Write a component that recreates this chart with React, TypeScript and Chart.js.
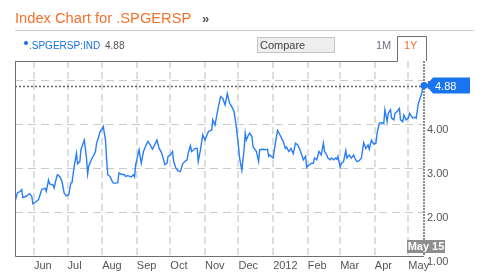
import React, { useEffect, useRef } from "react";
import { Chart, registerables } from "chart.js";

Chart.register(...registerables);

// Day offsets from 15 May 2011
const dayIdx = [
  0, 2, 5, 6, 7, 10, 13, 15, 16, 19, 21, 24, 27, 28, 30, 31, 34, 35, 37, 38, 40, 42, 44, 46, 48, 50, 51, 53, 55, 56,
  58, 59, 61, 62, 64, 65, 66, 69, 70, 72, 73, 75, 76, 78, 79, 81, 82, 83, 85, 87, 88, 90, 92, 93, 95, 98, 99, 101,
  104, 106, 107, 108, 109, 111, 113, 115, 117, 119, 121, 123, 125, 127, 129, 131, 133, 134, 136, 137, 139, 141, 142,
  144, 146, 148, 150, 152, 154, 155, 157, 158, 160, 161, 163, 164, 166, 168, 170, 173, 176, 177, 179, 182, 184, 186,
  188, 190, 192, 194, 196, 198, 200, 201, 203, 205, 206, 207, 209, 210, 212, 213, 216, 218, 219, 222, 224, 226, 227,
  228, 231, 233, 235, 237, 240, 242, 243, 245, 247, 249, 251, 253, 255, 257, 258, 260, 261, 262, 265, 267, 268, 270,
  272, 274, 276, 277, 279, 280, 282, 283, 285, 287, 288, 289, 291, 292, 294, 296, 297, 299, 301, 303, 304, 306, 308,
  310, 312, 314, 316, 317, 319, 321, 323, 324, 326, 328, 330, 331, 333, 334, 336, 337, 339, 340, 342, 344, 345, 347,
  348, 350, 352, 353, 356, 358, 359, 361, 362, 364, 365, 366,
];

const values = [
  2.24, 2.43, 2.48, 2.51, 2.33, 2.36, 2.42, 2.36, 2.19, 2.24, 2.28, 2.52, 2.54, 2.47, 2.73, 2.64, 2.62, 2.55, 2.77,
  2.85, 2.81, 2.7, 2.43, 2.37, 2.39, 2.66, 2.67, 3.04, 3.34, 3.1, 3.15, 3.42, 3.57, 3.64, 3.23, 2.87, 3.05, 3.23,
  3.27, 3.38, 3.57, 3.72, 3.83, 3.89, 3.95, 3.64, 3.19, 2.85, 2.81, 2.7, 2.66, 2.66, 2.67, 2.89, 2.86, 2.85, 2.81,
  2.83, 2.8, 2.85, 2.8, 3.08, 3.19, 3.42, 3.11, 3.38, 3.51, 3.61, 3.53, 3.43, 3.53, 3.64, 3.45, 3.36, 3.19, 3.08,
  3.11, 3.27, 3.3, 3.38, 3.15, 3.0, 2.94, 2.92, 3.1, 3.15, 3.19, 3.34, 3.51, 3.38, 3.42, 3.45, 3.45, 3.15, 3.42,
  3.76, 3.64, 3.83, 3.87, 4.1, 3.98, 4.4, 4.63, 4.59, 4.44, 4.7, 4.48, 4.4, 4.29, 3.95, 3.49, 3.23, 2.95, 3.42, 3.8,
  3.64, 3.76, 3.8, 3.72, 3.49, 3.38, 3.15, 3.42, 3.43, 3.42, 3.43, 3.27, 3.3, 3.23, 3.57, 3.86, 3.76, 3.61, 3.45,
  3.48, 3.38, 3.45, 3.33, 3.57, 3.53, 3.42, 3.27, 3.19, 3.27, 3.02, 3.05, 3.11, 3.11, 3.23, 3.19, 3.38, 3.3, 3.57,
  3.38, 3.3, 3.23, 3.19, 3.23, 3.19, 3.23, 3.2, 3.27, 3.02, 3.11, 3.15, 3.4, 3.23, 3.3, 3.23, 3.3, 3.23, 3.15, 3.17,
  3.23, 3.58, 3.45, 3.53, 3.43, 3.64, 3.55, 3.57, 3.8, 4.02, 4.04, 4.02, 4.33, 4.06, 4.25, 4.33, 4.14, 4.1, 4.25,
  4.29, 4.36, 4.1, 4.06, 4.21, 4.1, 4.14, 4.25, 4.14, 4.16, 4.14, 4.48, 4.55, 4.7, 4.86, 4.88,
];

const monthDays = [17, 47, 78, 109, 139, 170, 200, 231, 262, 291, 322, 352];
const monthLabels = ["Jun", "Jul", "Aug", "Sep", "Oct", "Nov", "Dec", "2012", "Feb", "Mar", "Apr", "May"];
const yTicks = [1, 2, 3, 4, 5];
const lastValue = 4.88;
const lastDateLabel = "May 15";
const seriesName = ".SPGERSP:IND";

const BLUE = "#2a7ef5";
const TAG_BLUE = "#1a74f0";
const FONT = "Arial, 'Liberation Sans', sans-serif";

export default function App() {
  const ref = useRef<HTMLCanvasElement>(null);

  useEffect(() => {
    const canvas = ref.current;
    if (!canvas) return;

    const overlay = {
      id: "overlay",
      beforeDatasetsDraw(chart: any) {
        const ctx = chart.ctx;
        const { left, right } = chart.chartArea;
        const ys = chart.scales.y;
        const yv = Math.round(ys.getPixelForValue(lastValue)) + 0.5;
        ctx.save();
        ctx.strokeStyle = "#666";
        ctx.lineWidth = 1.5;
        ctx.setLineDash([2, 2]);
        ctx.beginPath();
        ctx.moveTo(left, yv);
        ctx.lineTo(right, yv);
        ctx.stroke();
        ctx.restore();
      },
      afterDraw(chart: any) {
        const ctx = chart.ctx;
        const { left, right, top, bottom } = chart.chartArea;
        const ys = chart.scales.y;
        const xs = chart.scales.x;
        ctx.save();
        ctx.strokeStyle = "#6f6f6f";
        ctx.lineWidth = 1;
        ctx.setLineDash([]);
        ctx.beginPath();
        ctx.moveTo(left + 0.5, top + 0.5);
        ctx.lineTo(left + 0.5, bottom + 0.5);
        ctx.lineTo(right, bottom + 0.5);
        ctx.moveTo(left, top + 0.5);
        ctx.lineTo(397.5, top + 0.5);
        ctx.lineTo(397.5, 36.5);
        ctx.lineTo(426.5, 36.5);
        ctx.lineTo(426.5, top);
        ctx.stroke();
        ctx.strokeStyle = "#8a8a8a";
        ctx.lineWidth = 2;
        ctx.setLineDash([2, 1]);
        ctx.beginPath();
        ctx.moveTo(right, top);
        ctx.lineTo(right, bottom);
        ctx.stroke();
        ctx.setLineDash([]);
        const xe = xs.getPixelForValue(dayIdx[dayIdx.length - 1]);
        const ye = ys.getPixelForValue(lastValue);
        ctx.fillStyle = TAG_BLUE;
        ctx.beginPath();
        ctx.arc(xe, ye, 3.5, 0, Math.PI * 2);
        ctx.fill();
        ctx.beginPath();
        ctx.moveTo(right + 2, ye);
        ctx.lineTo(right + 9, ye - 8);
        ctx.lineTo(470, ye - 8);
        ctx.lineTo(470, ye + 8);
        ctx.lineTo(right + 9, ye + 8);
        ctx.closePath();
        ctx.fill();
        ctx.fillStyle = "#fff";
        ctx.font = `11px ${FONT}`;
        ctx.textBaseline = "middle";
        ctx.textAlign = "left";
        ctx.fillText(lastValue.toFixed(2), 435, ye + 1);
        ctx.fillStyle = "#8e8e8e";
        ctx.fillRect(407, 240, 38, 13);
        ctx.fillStyle = "#fff";
        ctx.font = `bold 11px ${FONT}`;
        ctx.textAlign = "center";
        ctx.fillText(lastDateLabel, 426, 247);
        ctx.restore();
      },
    };

    const chart = new Chart(canvas, {
      type: "line",
      data: {
        datasets: [
          {
            data: dayIdx.map((d, i) => ({ x: d, y: values[i] })),
            borderColor: BLUE,
            borderWidth: 1.4,
            pointRadius: 0,
            tension: 0,
            fill: false,
          },
        ],
      },
      options: {
        animation: false,
        responsive: false,
        devicePixelRatio: 1,
        layout: { padding: { left: 15, top: 61, right: 0, bottom: 0 } },
        plugins: { legend: { display: false }, tooltip: { enabled: false } },
        scales: {
          x: {
            type: "linear",
            min: 0,
            max: 366,
            afterBuildTicks(scale: any) {
              scale.ticks = monthDays.map((v) => ({ value: v }));
            },
            afterFit(scale: any) {
              scale.height = 19;
            },
            ticks: {
              autoSkip: false,
              maxRotation: 0,
              align: "start",
              padding: 3,
              color: "#555",
              font: { family: FONT, size: 11 },
              callback(v: any) {
                const i = monthDays.indexOf(v);
                return i >= 0 ? monthLabels[i] : "";
              },
            },
            grid: { color: "#dedede", lineWidth: 2, drawTicks: false },
            border: { display: false, dash: [7, 4] },
          },
          y: {
            type: "linear",
            position: "right",
            min: 1,
            max: 5.44,
            afterBuildTicks(scale: any) {
              scale.ticks = yTicks.map((v) => ({ value: v }));
            },
            afterFit(scale: any) {
              scale.width = 64;
            },
            ticks: {
              padding: 3,
              labelOffset: 6,
              color: "#555",
              font: { family: FONT, size: 11 },
              callback(v: any) {
                return Number(v).toFixed(2);
              },
            },
            grid: { color: "#cacaca", lineWidth: 1, drawTicks: false },
            border: { display: false, dash: [8, 5] },
          },
        },
      },
      plugins: [overlay],
    } as any);

    return () => chart.destroy();
  }, []);

  const abs = (o: any): React.CSSProperties => ({ position: "absolute", whiteSpace: "nowrap", ...o });

  return (
    <div style={{ position: "fixed", left: 0, top: 0, width: 488, height: 275, background: "#fff", fontFamily: FONT }}>
      <canvas ref={ref} width={488} height={275} style={{ position: "absolute", left: 0, top: 0, width: 488, height: 275 }} />
      <div style={abs({ left: 15, top: 11, fontSize: 14.7, lineHeight: 1, color: "#f4712d" })}>Index Chart for .SPGERSP</div>
      <div style={abs({ left: 202, top: 12, fontSize: 13, lineHeight: 1, color: "#555", fontWeight: "bold" })}>»</div>
      <div style={abs({ left: 15, top: 30, width: 459, height: 1, background: "#cfcfcf" })} />
      <div style={abs({ left: 24, top: 41, width: 4, height: 4, borderRadius: 2, background: "#1a6ee6" })} />
      <div style={abs({ left: 29, top: 41, fontSize: 10, lineHeight: 1, color: "#1a6ee6" })}>{seriesName}</div>
      <div style={abs({ left: 105, top: 41, fontSize: 10, lineHeight: 1, color: "#555" })}>{lastValue.toFixed(2)}</div>
      <div
        style={abs({
          left: 257,
          top: 37,
          width: 78,
          height: 16,
          background: "#eeeeee",
          border: "1px solid #c4c4c4",
          fontSize: 11,
          lineHeight: "15px",
          color: "#444",
          paddingLeft: 2,
          boxSizing: "border-box",
        })}
      >
        Compare
      </div>
      <div style={abs({ left: 376, top: 40, fontSize: 11, lineHeight: 1, color: "#6b7280" })}>1M</div>
      <div style={abs({ left: 404, top: 40, fontSize: 11, lineHeight: 1, color: "#f4712d" })}>1Y</div>
    </div>
  );
}
